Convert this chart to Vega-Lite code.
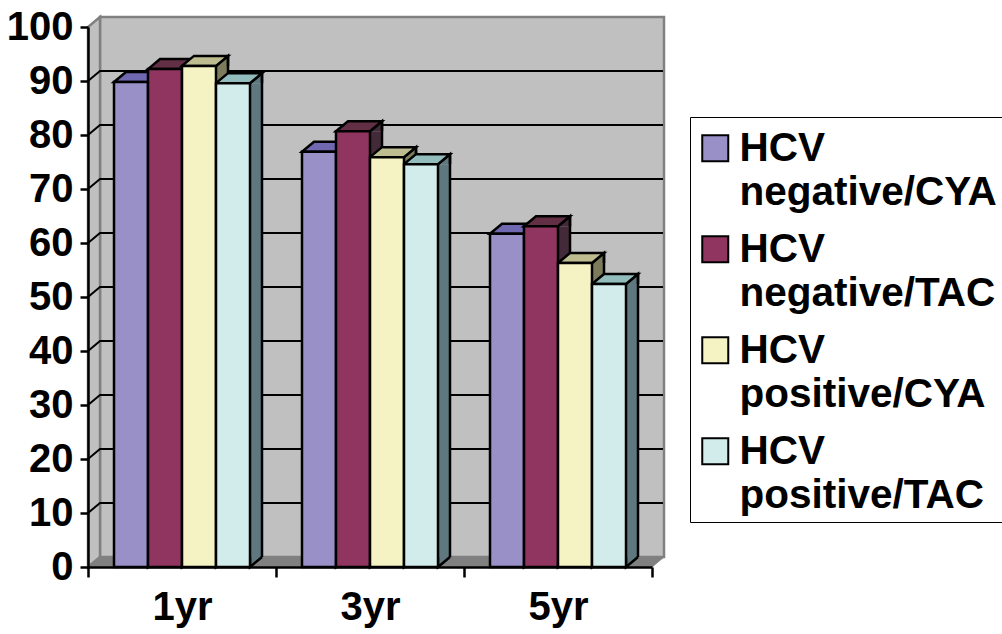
{
"$schema":"https://vega.github.io/schema/vega-lite/v6.json",
"width":564,"height":540,
"autosize":"none",
"padding":{"left":88,"top":27,"right":350,"bottom":67},
"background":"white",
"config":{"view":{"stroke":null},"style":{"guide-label":{"lineHeight":44}}},
"data":{"values":[
{"period":"1yr","series":"HCV negative/CYA","value":89.8},
{"period":"1yr","series":"HCV negative/TAC","value":92.2},
{"period":"1yr","series":"HCV positive/CYA","value":92.8},
{"period":"1yr","series":"HCV positive/TAC","value":89.6},
{"period":"3yr","series":"HCV negative/CYA","value":76.9},
{"period":"3yr","series":"HCV negative/TAC","value":80.7},
{"period":"3yr","series":"HCV positive/CYA","value":75.9},
{"period":"3yr","series":"HCV positive/TAC","value":74.6},
{"period":"5yr","series":"HCV negative/CYA","value":61.7},
{"period":"5yr","series":"HCV negative/TAC","value":63.1},
{"period":"5yr","series":"HCV positive/CYA","value":56.3},
{"period":"5yr","series":"HCV positive/TAC","value":52.4}
]},
"encoding":{
"y":{"field":"value","type":"quantitative","stack":null,"scale":{"domain":[0,100],"nice":false},
"axis":{"title":null,"values":[0,10,20,30,40,50,60,70,80,90,100],"grid":false,"domainColor":"black","domainWidth":2.5,"tickColor":"black","tickWidth":2.5,"tickSize":8,"labelPadding":7,"labelFont":"Liberation Sans","labelFontWeight":"bold","labelFontSize":40,"labelColor":"black","zindex":1}}
},
"layer":[
{"data":{"values":[{"value":0}]},
"mark":{"type":"point","size":4,"opacity":1,"filled":true,"fill":"#C0C0C0","stroke":"#808080","strokeWidth":2.5,"shape":"M-270,-10 L294,-10 L294,-550 L-270,-550 Z"}},
{"data":{"values":[{"value":0}]},
"mark":{"type":"point","size":4,"opacity":1,"filled":true,"fill":"#C0C0C0","stroke":"#808080","strokeWidth":2.5,"shape":"M-282,0 L-270,-10 L-270,-550 L-282,-540 Z"}},
{"data":{"values":[{"value":0}]},
"mark":{"type":"point","size":4,"opacity":1,"filled":true,"fill":"#808080","stroke":"#808080","strokeWidth":1,"shape":"M-282,0 L-270,-10 L294,-10 L282,0 Z"}},
{"data":{"values":[{"value":10},{"value":20},{"value":30},{"value":40},{"value":50},{"value":60},{"value":70},{"value":80},{"value":90}]},
"mark":{"type":"point","size":4,"opacity":1,"filled":false,"stroke":"black","strokeWidth":2,"shape":"M-282,0 L-270,-10 L293,-10"}},
{"mark":{"type":"bar","width":12,"y2Offset":-10},
"encoding":{
"x":{"field":"period","type":"nominal","scale":{"paddingInner":0,"paddingOuter":0}},
"xOffset":{"field":"series","type":"nominal","scale":{"type":"band","paddingInner":0,"paddingOuter":0.7647,"range":[23,211]}},
"y2":{"datum":0},
"fill":{"field":"series","type":"nominal","legend":null,"scale":{"range":["#3C3C78","#422A38","#7C7C5C","#5F7880"]}}}},
{"mark":{"type":"point","size":4,"opacity":1,"filled":true,"stroke":"black","strokeWidth":2.5,"shape":"M17,0 L29,-10 L29,0"},
"encoding":{
"x":{"field":"period","type":"nominal"},
"xOffset":{"field":"series","type":"nominal","scale":{"type":"band","paddingInner":0,"paddingOuter":0.7647,"range":[0,188]}},
"fill":{"field":"series","type":"nominal","legend":null,"scale":{"range":["#3C3C78","#422A38","#7C7C5C","#5F7880"]}}}},
{"data":{"values":[
{"period":"1yr","series":"HCV negative/CYA","value":0},{"period":"1yr","series":"HCV negative/TAC","value":0},{"period":"1yr","series":"HCV positive/CYA","value":0},{"period":"1yr","series":"HCV positive/TAC","value":0},
{"period":"3yr","series":"HCV negative/CYA","value":0},{"period":"3yr","series":"HCV negative/TAC","value":0},{"period":"3yr","series":"HCV positive/CYA","value":0},{"period":"3yr","series":"HCV positive/TAC","value":0},
{"period":"5yr","series":"HCV negative/CYA","value":0},{"period":"5yr","series":"HCV negative/TAC","value":0},{"period":"5yr","series":"HCV positive/CYA","value":0},{"period":"5yr","series":"HCV positive/TAC","value":0}
]},
"mark":{"type":"point","size":4,"opacity":1,"filled":true,"stroke":"black","strokeWidth":2.5,"shape":"M17,-10 L17,0 L29,-10"},
"encoding":{
"x":{"field":"period","type":"nominal"},
"xOffset":{"field":"series","type":"nominal","scale":{"type":"band","paddingInner":0,"paddingOuter":0.7647,"range":[0,188]}},
"fill":{"field":"series","type":"nominal","legend":null,"scale":{"range":["#3C3C78","#422A38","#7C7C5C","#5F7880"]}}}},
{"mark":{"type":"rule","stroke":"black","strokeWidth":2.5,"yOffset":-10,"y2Offset":-10},
"encoding":{
"x":{"field":"period","type":"nominal"},
"xOffset":{"field":"series","type":"nominal","scale":{"type":"band","paddingInner":0,"paddingOuter":0.7647,"range":[29,217]}},
"y2":{"datum":0}}},
{"mark":{"type":"point","size":4,"opacity":1,"filled":true,"stroke":"black","strokeWidth":2.5,"shape":"M-17,0 L-5,-10 L29,-10 L17,0 Z"},
"encoding":{
"x":{"field":"period","type":"nominal"},
"xOffset":{"field":"series","type":"nominal","scale":{"type":"band","paddingInner":0,"paddingOuter":0.7647,"range":[0,188]}},
"fill":{"field":"series","type":"nominal","legend":null,"scale":{"range":["#7068B0","#622F45","#BDBD90","#93BDBD"]}}}},
{"mark":{"type":"bar","stroke":"black","strokeWidth":2.5},
"encoding":{
"x":{"field":"period","type":"nominal","title":null,"axis":{"title":null,"labelAngle":0,"labelAlign":"center","tickBand":"extent","domainColor":"black","domainWidth":2.5,"tickColor":"black","tickWidth":2.5,"tickSize":10,"labelPadding":30,"labelFont":"Liberation Sans","labelFontWeight":"bold","labelFontSize":40,"labelColor":"black","zindex":1}},
"xOffset":{"field":"series","type":"nominal","scale":{"type":"band","paddingInner":0,"paddingOuter":0.7647,"range":[0,188]}},
"y2":{"datum":0},
"fill":{"field":"series","type":"nominal","scale":{"range":["#9A90C8","#8F3560","#F5F3C3","#D2ECEC"]},
"legend":{"title":" ","titleFontSize":1,"titlePadding":18,"orient":"none","legendX":602,"legendY":90,"fillColor":"white","strokeColor":"black","padding":5,"symbolOffset":0,"symbolType":"M-1,-2 H1 V0 H-1 Z","symbolSize":676,"symbolStrokeColor":"black","symbolStrokeWidth":2,"labelFont":"Liberation Sans","labelFontWeight":"bold","labelFontSize":40.5,"labelColor":"black","labelLimit":400,"labelOffset":4,"labelBaseline":"alphabetic","rowPadding":16,"labelExpr":"split(datum.label,' ')"}}}}
],
"resolve":{"scale":{"fill":"independent","xOffset":"independent"}}
}
